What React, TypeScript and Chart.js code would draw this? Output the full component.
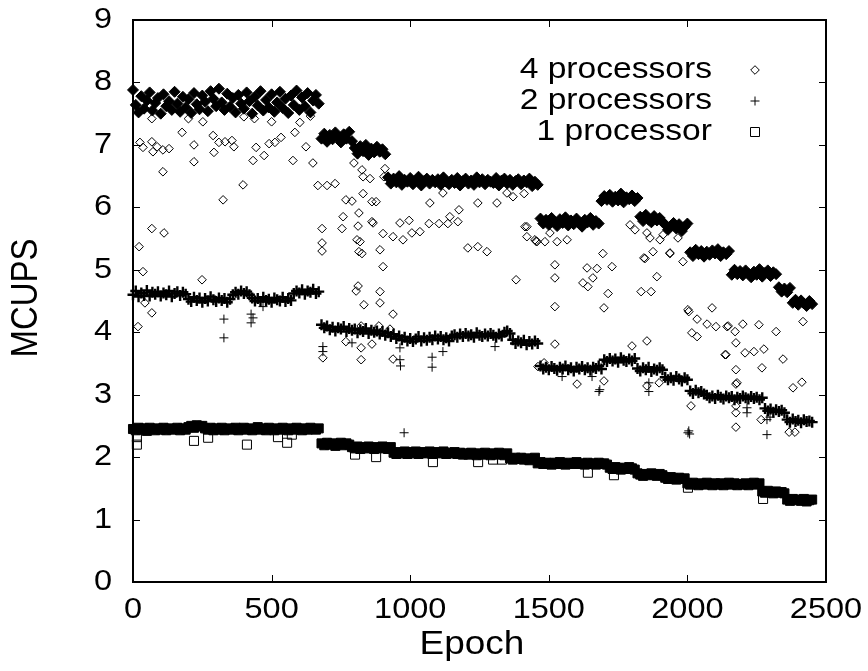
import React, { useEffect, useRef } from "react";
import { Chart, registerables } from "chart.js";

Chart.register(...registerables);

// ---------- DATA ----------
const epochs = [
  0, 10, 20, 30, 40, 50, 60, 70, 80, 90,
  100, 110, 120, 130, 140, 150, 160, 170, 180, 190,
  200, 210, 220, 230, 240, 250, 260, 270, 280, 290,
  300, 310, 320, 330, 340, 350, 360, 370, 380, 390,
  400, 410, 420, 430, 440, 450, 460, 470, 480, 490,
  500, 510, 520, 530, 540, 550, 560, 570, 580, 590,
  600, 610, 620, 630, 640, 650, 660, 670, 680, 690,
  700, 710, 720, 730, 740, 750, 760, 770, 780, 790,
  800, 810, 820, 830, 840, 850, 860, 870, 880, 890,
  900, 910, 920, 930, 940, 950, 960, 970, 980, 990,
  1000, 1010, 1020, 1030, 1040, 1050, 1060, 1070, 1080, 1090,
  1100, 1110, 1120, 1130, 1140, 1150, 1160, 1170, 1180, 1190,
  1200, 1210, 1220, 1230, 1240, 1250, 1260, 1270, 1280, 1290,
  1300, 1310, 1320, 1330, 1340, 1350, 1360, 1370, 1380, 1390,
  1400, 1410, 1420, 1430, 1440, 1450, 1460, 1470, 1480, 1490,
  1500, 1510, 1520, 1530, 1540, 1550, 1560, 1570, 1580, 1590,
  1600, 1610, 1620, 1630, 1640, 1650, 1660, 1670, 1680, 1690,
  1700, 1710, 1720, 1730, 1740, 1750, 1760, 1770, 1780, 1790,
  1800, 1810, 1820, 1830, 1840, 1850, 1860, 1870, 1880, 1890,
  1900, 1910, 1920, 1930, 1940, 1950, 1960, 1970, 1980, 1990,
  2000, 2010, 2020, 2030, 2040, 2050, 2060, 2070, 2080, 2090,
  2100, 2110, 2120, 2130, 2140, 2150, 2160, 2170, 2180, 2190,
  2200, 2210, 2220, 2230, 2240, 2250, 2260, 2270, 2280, 2290,
  2300, 2310, 2320, 2330, 2340, 2350, 2360, 2370, 2380, 2390,
  2400, 2410, 2420, 2430, 2440, 2450,
];

const quadMain = [
  7.88, 7.64, 7.52, 7.78, 7.58, 7.71, 7.84, 7.55, 7.67, 7.75,
  7.50, 7.81, 7.62, 7.70, 7.56, 7.85, 7.66, 7.53, 7.77, 7.60,
  7.73, 7.51, 7.83, 7.65, 7.57, 7.79, 7.69, 7.54, 7.86, 7.74,
  7.62, 7.90, 7.68, 7.56, 7.82, 7.61, 7.75, 7.52, 7.80, 7.66,
  7.58, 7.84, 7.70, 7.50, 7.77, 7.63, 7.86, 7.55, 7.72, 7.60,
  7.81, 7.53, 7.68, 7.85, 7.59, 7.74, 7.51, 7.79, 7.64, 7.87,
  7.56, 7.76, 7.62, 7.83, 7.52, 7.71, 7.80, 7.66, 7.10, 7.18,
  7.05, 7.16, 7.09, 7.20, 7.12, 7.04, 7.17, 7.10, 7.21, 7.06,
  6.95, 6.86, 6.98, 6.90, 7.00, 6.84, 6.94, 6.88, 6.97, 6.89,
  6.93, 6.85, 6.48, 6.38, 6.46, 6.40, 6.50, 6.36, 6.44, 6.41,
  6.47, 6.37, 6.43, 6.49, 6.35, 6.42, 6.46, 6.38, 6.44, 6.40,
  6.45, 6.36, 6.48, 6.41, 6.37, 6.44, 6.39, 6.47, 6.35, 6.42,
  6.46, 6.38, 6.43, 6.36, 6.48, 6.40, 6.45, 6.37, 6.44, 6.41,
  6.39, 6.47, 6.35, 6.43, 6.46, 6.38, 6.44, 6.36, 6.42, 6.45,
  6.37, 6.43, 6.40, 6.46, 6.34, 6.41, 6.36, 5.82, 5.74, 5.80,
  5.72, 5.83, 5.76, 5.70, 5.81, 5.75, 5.84, 5.71, 5.79, 5.73,
  5.82, 5.74, 5.69, 5.80, 5.76, 5.83, 5.72, 5.78, 5.74, 6.10,
  6.18, 6.12, 6.20, 6.09, 6.17, 6.11, 6.22, 6.08, 6.16, 6.13,
  6.19, 6.10, 6.15, 5.85, 5.78, 5.88, 5.80, 5.76, 5.86, 5.79,
  5.83, 5.77, 5.72, 5.64, 5.70, 5.75, 5.66, 5.73, 5.62, 5.69,
  5.74, 5.28, 5.22, 5.32, 5.25, 5.30, 5.21, 5.29, 5.24, 5.31,
  5.26, 5.33, 5.22, 5.28, 5.25, 5.30, 4.92, 5.00, 4.93, 4.98,
  4.91, 4.99, 4.94, 4.88, 4.97, 4.92, 5.01, 4.89, 4.95, 4.99,
  4.90, 4.96, 4.93, 4.72, 4.65, 4.70, 4.64, 4.71, 4.47, 4.52,
  4.44, 4.51, 4.46, 4.42, 4.50, 4.45,
];

const dualMain = [
  4.60, 4.66, 4.57, 4.63, 4.59, 4.67, 4.58, 4.64, 4.61, 4.65,
  4.58, 4.63, 4.60, 4.66, 4.57, 4.62, 4.65, 4.59, 4.64, 4.61,
  4.53, 4.49, 4.56, 4.51, 4.55, 4.48, 4.54, 4.50, 4.57, 4.52,
  4.49, 4.55, 4.51, 4.54, 4.48, 4.53, 4.60, 4.64, 4.61, 4.66,
  4.62, 4.65, 4.60, 4.55, 4.50, 4.54, 4.49, 4.56, 4.51, 4.53,
  4.48, 4.55, 4.52, 4.50, 4.56, 4.49, 4.54, 4.51, 4.62, 4.66,
  4.63, 4.68, 4.61, 4.66, 4.64, 4.69, 4.62, 4.65, 4.12, 4.07,
  4.10, 4.04, 4.08, 4.02, 4.07, 4.05, 4.09, 4.01, 4.06, 4.03,
  4.05, 3.99, 4.04, 4.01, 4.06, 3.98, 4.03, 4.00, 4.02, 3.97,
  4.01, 3.95, 3.99, 3.93, 3.97, 3.90, 3.94, 3.88, 3.92, 3.86,
  3.90, 3.85, 3.89, 3.93, 3.86, 3.91, 3.87, 3.92, 3.88, 3.94,
  3.89, 3.93, 3.88, 3.91, 3.86, 3.94, 3.96, 3.92, 3.97, 3.93,
  3.98, 3.94, 3.96, 3.92, 3.99, 3.95, 3.93, 3.97, 3.94, 3.98,
  3.95, 3.92, 3.97, 3.94, 4.00, 4.02, 3.98, 3.88, 3.82, 3.86,
  3.83, 3.87, 3.80, 3.85, 3.81, 3.86, 3.82, 3.46, 3.41, 3.44,
  3.40, 3.45, 3.42, 3.39, 3.44, 3.41, 3.46, 3.40, 3.43, 3.38,
  3.44, 3.41, 3.45, 3.40, 3.43, 3.39, 3.44, 3.42, 3.46, 3.41,
  3.56, 3.53, 3.58, 3.54, 3.57, 3.52, 3.59, 3.55, 3.53, 3.57,
  3.54, 3.58, 3.42, 3.38, 3.43, 3.40, 3.44, 3.37, 3.41, 3.39,
  3.43, 3.40, 3.28, 3.24, 3.27, 3.23, 3.29, 3.25, 3.22, 3.27,
  3.24, 3.06, 3.02, 3.07, 3.03, 3.05, 3.01, 2.99, 2.95, 2.98,
  2.94, 2.99, 2.96, 2.93, 2.98, 2.95, 2.97, 2.92, 2.96, 2.94,
  2.98, 2.95, 2.93, 2.97, 2.94, 2.96, 2.92, 2.95, 2.78, 2.74,
  2.77, 2.72, 2.76, 2.73, 2.75, 2.71, 2.60, 2.56, 2.61, 2.57,
  2.59, 2.55, 2.60, 2.57, 2.58, 2.56,
];

const singleMain = [
  2.45, 2.43, 2.47, 2.44, 2.46, 2.42, 2.47, 2.45, 2.43, 2.46,
  2.44, 2.47, 2.43, 2.46, 2.44, 2.45, 2.47, 2.43, 2.46, 2.44,
  2.48, 2.50, 2.47, 2.51, 2.49, 2.50, 2.46, 2.44, 2.47, 2.43,
  2.46, 2.44, 2.47, 2.43, 2.45, 2.46, 2.44, 2.47, 2.43, 2.45,
  2.47, 2.44, 2.46, 2.43, 2.45, 2.48, 2.44, 2.46, 2.43, 2.47,
  2.45, 2.43, 2.46, 2.44, 2.47, 2.45, 2.43, 2.46, 2.44, 2.47,
  2.45, 2.43, 2.46, 2.44, 2.47, 2.45, 2.44, 2.46, 2.22, 2.19,
  2.23, 2.20, 2.22, 2.18, 2.21, 2.23, 2.19, 2.22, 2.20, 2.16,
  2.14, 2.17, 2.13, 2.16, 2.14, 2.17, 2.15, 2.13, 2.16, 2.14,
  2.17, 2.15, 2.13, 2.16, 2.07, 2.05, 2.08, 2.06, 2.09, 2.05,
  2.08, 2.06, 2.09, 2.05, 2.07, 2.08, 2.06, 2.09, 2.05, 2.07,
  2.08, 2.06, 2.09, 2.05, 2.07, 2.06, 2.08, 2.05, 2.07, 2.04,
  2.06, 2.04, 2.07, 2.05, 2.03, 2.06, 2.04, 2.07, 2.05, 2.03,
  2.06, 2.04, 2.07, 2.05, 2.03, 2.06, 1.98, 1.96, 1.99, 1.97,
  1.99, 1.96, 1.98, 1.95, 1.97, 1.99, 1.90, 1.92, 1.89, 1.91,
  1.90, 1.88, 1.91, 1.89, 1.92, 1.90, 1.88, 1.91, 1.89, 1.90,
  1.92, 1.89, 1.90, 1.88, 1.91, 1.89, 1.90, 1.88, 1.91, 1.89,
  1.90, 1.88, 1.83, 1.81, 1.84, 1.82, 1.80, 1.83, 1.81, 1.84,
  1.82, 1.80, 1.74, 1.72, 1.70, 1.73, 1.71, 1.74, 1.72, 1.70,
  1.73, 1.71, 1.67, 1.65, 1.68, 1.66, 1.64, 1.67, 1.65, 1.66,
  1.58, 1.56, 1.59, 1.57, 1.55, 1.58, 1.56, 1.59, 1.57, 1.55,
  1.58, 1.56, 1.58, 1.55, 1.57, 1.59, 1.56, 1.58, 1.55, 1.57,
  1.56, 1.58, 1.55, 1.57, 1.59, 1.56, 1.58, 1.45, 1.43, 1.46,
  1.44, 1.42, 1.45, 1.43, 1.44, 1.42, 1.32, 1.30, 1.33, 1.31,
  1.32, 1.30, 1.33, 1.29, 1.31, 1.32,
];

// scattered measurements (4 processors)
const quadOutX = [
  25, 36, 68, 72, 87, 108, 130, 108, 177, 220, 220, 289, 292, 310, 332, 357, 364, 325, 397, 433,
  444, 473, 491, 512, 534, 577, 584, 624, 649, 68, 112, 22, 667, 700, 729, 682, 682, 682,
  36, 249, 43, 68, 18, 685,
  754, 758, 768, 790, 797, 815, 812, 808, 819, 815, 826, 830, 830, 826, 855, 862, 877, 862, 866, 891,
  902, 909, 905, 938, 963, 974, 996, 1006, 1035, 1071, 1068, 1104, 1136, 1143, 1172, 1176, 1118, 1208, 1244, 1277,
  1244, 1313, 1349, 1371, 1421, 1421, 1454, 1411,
  812, 805, 902, 891, 833, 891, 938, 823, 887, 927, 768, 823, 862, 823, 938, 1382, 1461,
  1522, 1522, 1522, 1695, 1638, 1674, 1728, 1659, 1623, 1641, 1714, 1699, 1847, 1876, 1937, 1984, 1890, 1833, 1869, 1800,
  1854, 1522, 1483, 1602, 1699, 1854, 1898, 2002, 2005, 2035, 2071, 2103, 2143, 2172, 2089, 2016, 2035, 2175, 2139, 2175,
  2175, 2013, 2175, 2175,
  2147, 2200, 2258, 2320, 2417, 2136, 2208, 2240, 2276, 2269, 2345, 2179, 2381, 2413, 2175, 2266, 2367, 2388,
  1414, 1450, 1457, 1486, 1530, 1566, 1504, 1793, 1811, 1854, 1865, 1901, 1912, 1966, 1843, 1937,
  68, 200, 252, 400, 438, 500, 602, 640,
];
const quadOutY = [
  7.04, 6.96, 7.05, 6.89, 6.97, 6.92, 6.94, 6.57, 7.2, 7.0, 6.73, 7.15, 6.88, 7.04, 7.05, 7.07, 6.97, 6.12, 6.36, 6.75,
  6.96, 6.83, 7.02, 7.04, 7.12, 6.75, 7.2, 6.97, 6.71, 5.66, 5.59, 5.37, 6.35, 6.35, 6.38, 5.66, 5.43, 5.3,
  4.97, 4.84, 4.47, 4.31, 4.09, 3.59,
  5.66, 5.85, 6.12, 6.1, 6.71, 5.91, 5.7, 5.48, 5.45, 5.29, 5.26, 6.22, 6.49, 6.6, 6.46, 6.09, 6.09, 5.77, 5.75, 5.32,
  5.58, 6.62, 6.49, 5.53, 5.75, 5.48, 5.79, 5.59, 5.61, 6.07, 5.74, 5.74, 5.74, 5.85, 5.77, 5.96, 6.23, 5.35, 5.37, 5.29,
  6.07, 6.07, 6.23, 6.17, 5.69, 5.53, 5.46, 6.22,
  4.74, 4.66, 5.05, 4.65, 4.44, 4.47, 4.29, 4.1, 4.1, 4.05, 3.85, 3.75, 3.81, 3.56, 3.57, 4.84, 3.45,
  5.08, 4.87, 4.41, 5.26, 5.03, 5.02, 5.05, 4.87, 4.79, 4.73, 4.62, 4.39, 5.18, 5.29, 5.26, 5.13, 4.89, 4.65, 4.65, 3.78,
  3.86, 3.81, 3.51, 3.17, 3.22, 3.14, 3.19, 4.36, 4.33, 4.21, 4.13, 4.09, 4.09, 4.01, 4.39, 3.99, 3.93, 3.83, 3.64, 3.4,
  3.17, 2.82, 2.71, 2.48,
  4.1, 4.13, 4.12, 4.01, 4.17, 3.64, 3.67, 3.69, 3.73, 3.43, 3.57, 3.19, 3.11, 3.2, 2.82, 2.6, 2.4, 2.4,
  5.69, 5.48, 5.45, 5.45, 5.45, 5.48, 5.59, 5.72, 5.64, 5.59, 5.51, 5.48, 5.56, 5.51, 5.19, 5.27,
  7.42, 7.42, 7.37, 7.45, 7.42, 7.37, 7.36, 7.46,
];

// scattered measurements (2 processors)
const dualOutX = [
  328, 328, 426, 426, 433, 469, 685, 685, 790, 963, 963, 965, 1079, 1079, 1118, 978,
  1306, 1548, 1656, 1681, 1684, 1861, 1861, 2002, 2005, 2008, 2215, 2215, 2287, 2287, 2298,
];
const dualOutY = [
  4.21, 3.91, 4.29, 4.15, 4.23, 4.41, 3.77, 3.69, 3.83, 3.75, 3.56, 3.46, 3.6, 3.44, 3.69, 2.39,
  3.77, 3.29, 3.29, 3.05, 3.08, 3.19, 3.05, 2.39, 2.42, 2.37, 2.79, 2.71, 2.6, 2.36, 2.64,
];

// scattered measurements (1 processor)
const singleOutX = [14, 14, 220, 271, 411, 523, 556, 573, 801, 877, 1082, 1245, 1299, 1331, 1641, 1735, 2002, 2273];
const singleOutY = [2.2, 2.32, 2.26, 2.31, 2.2, 2.32, 2.23, 2.36, 2.04, 2.0, 1.92, 1.92, 1.96, 1.96, 1.75, 1.71, 1.51, 1.33];

const seriesLabels = ["4 processors", "2 processors", "1 processor"];
const xTicks = [0, 500, 1000, 1500, 2000, 2500];
const yTicks = [0, 1, 2, 3, 4, 5, 6, 7, 8, 9];
const xTitle = "Epoch";
const yTitle = "MCUPS";

// ---------- STYLE ----------
const FONT = '"Liberation Sans", Arial, Helvetica, sans-serif';
const TICK_SIZE = 29;
const LEGEND_SIZE = 30;
const TITLE_SIZE = 33;
const SX = 1.12;
const INK = "#000";

const pts = (xs: number[], ys: number[]) => xs.map((x, i) => ({ x, y: ys[i] }));

function drawText(ctx: CanvasRenderingContext2D, text: string, x: number, y: number, align: CanvasTextAlign, size: number, rotate = false) {
  ctx.save();
  ctx.font = `${size}px ${FONT}`;
  ctx.translate(x, y);
  ctx.scale(SX, 1);
  if (rotate) ctx.rotate(-Math.PI / 2);
  ctx.textAlign = align;
  ctx.textBaseline = "middle";
  ctx.fillText(text, 0, 0);
  ctx.restore();
}

function marker(ctx: CanvasRenderingContext2D, kind: string, x: number, y: number) {
  ctx.save();
  ctx.strokeStyle = INK;
  ctx.lineWidth = 1;
  ctx.beginPath();
  if (kind === "diamond") {
    const r = 4.3;
    ctx.moveTo(x - r, y);
    ctx.lineTo(x, y - r);
    ctx.lineTo(x + r, y);
    ctx.lineTo(x, y + r);
    ctx.closePath();
  } else if (kind === "plus") {
    const r = 4.5;
    ctx.moveTo(x - r, y);
    ctx.lineTo(x + r, y);
    ctx.moveTo(x, y - r);
    ctx.lineTo(x, y + r);
  } else {
    const h = 4.5;
    ctx.rect(x - h, y - h, 2 * h, 2 * h);
  }
  ctx.stroke();
  ctx.restore();
}

const framePlugin = {
  id: "gnuFrame",
  afterDatasetsDraw(chart: any) {
    const { ctx, chartArea } = chart;
    const { left, right, top, bottom } = chartArea;
    const xs = chart.scales.x;
    const ys = chart.scales.y;
    ctx.save();
    ctx.strokeStyle = INK;
    ctx.lineWidth = 2;
    ctx.strokeRect(left, top, right - left, bottom - top);
    ctx.lineWidth = 1;
    const tl = 7;
    ctx.beginPath();
    for (const v of yTicks) {
      const py = Math.round(ys.getPixelForValue(v)) + 0.5;
      ctx.moveTo(left, py);
      ctx.lineTo(left + tl, py);
      ctx.moveTo(right, py);
      ctx.lineTo(right - tl, py);
    }
    for (const v of xTicks) {
      const px = Math.round(xs.getPixelForValue(v)) + 0.5;
      ctx.moveTo(px, bottom);
      ctx.lineTo(px, bottom - tl);
      ctx.moveTo(px, top);
      ctx.lineTo(px, top + tl);
    }
    ctx.stroke();

    ctx.fillStyle = INK;
    for (const v of yTicks) {
      drawText(ctx, String(v), left - 21, ys.getPixelForValue(v), "right", TICK_SIZE);
    }
    for (const v of xTicks) {
      drawText(ctx, String(v), xs.getPixelForValue(v), bottom + 28, "center", TICK_SIZE);
    }
    drawText(ctx, xTitle, 472, bottom + 63, "center", TITLE_SIZE);
    drawText(ctx, yTitle, 27, 298, "center", TITLE_SIZE, true);

    const kinds = ["diamond", "plus", "square"];
    const rowsY = [70, 101, 132];
    seriesLabels.forEach((lab, i) => {
      drawText(ctx, lab, 712, rowsY[i], "right", LEGEND_SIZE);
      marker(ctx, kinds[i], 755, rowsY[i]);
    });
    ctx.restore();
  },
};

export default function App() {
  const ref = useRef<HTMLCanvasElement | null>(null);

  useEffect(() => {
    if (!ref.current) return;
    const common = { showLine: false, clip: false as any, borderColor: INK, pointBorderColor: INK };
    const chart = new Chart(ref.current, {
      type: "scatter",
      data: {
        datasets: [
          { ...common, label: seriesLabels[0], data: pts(epochs, quadMain), pointStyle: "rectRot", pointRadius: 5.5, pointBorderWidth: 1, pointBackgroundColor: INK },
          { ...common, label: seriesLabels[0] + " (scattered)", data: pts(quadOutX, quadOutY), pointStyle: "rectRot", pointRadius: 4.3, pointBorderWidth: 1, pointBackgroundColor: "rgba(0,0,0,0)" },
          { ...common, label: seriesLabels[1], data: pts(epochs, dualMain), pointStyle: "cross", pointRadius: 5.5, pointBorderWidth: 2.4, pointBackgroundColor: INK },
          { ...common, label: seriesLabels[1] + " (scattered)", data: pts(dualOutX, dualOutY), pointStyle: "cross", pointRadius: 4.5, pointBorderWidth: 1, pointBackgroundColor: INK },
          { ...common, label: seriesLabels[2], data: pts(epochs, singleMain), pointStyle: "rect", pointRadius: 6.4, pointBorderWidth: 1, pointBackgroundColor: INK },
          { ...common, label: seriesLabels[2] + " (scattered)", data: pts(singleOutX, singleOutY), pointStyle: "rect", pointRadius: 6.4, pointBorderWidth: 1, pointBackgroundColor: "rgba(0,0,0,0)" },
        ] as any,
      },
      options: {
        animation: false,
        responsive: false,
        events: [],
        layout: { padding: { left: 133, right: 42, top: 20, bottom: 89 } },
        scales: {
          x: { type: "linear", min: 0, max: 2500, display: false },
          y: { type: "linear", min: 0, max: 9, display: false },
        },
        plugins: { legend: { display: false }, tooltip: { enabled: false } },
      },
      plugins: [framePlugin],
    });
    return () => chart.destroy();
  }, []);

  return (
    <div style={{ position: "absolute", left: 0, top: 0, width: 868, height: 671, background: "#fff" }}>
      <canvas ref={ref} width={868} height={671} style={{ display: "block" }} />
    </div>
  );
}
